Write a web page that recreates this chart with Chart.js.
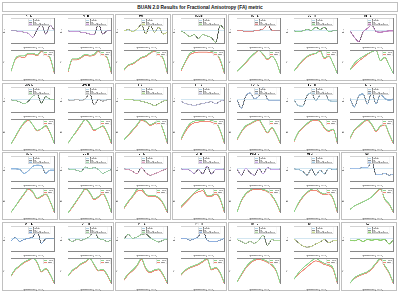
<!DOCTYPE html>
<html>
<head>
<meta charset="utf-8">
<script src="https://cdn.jsdelivr.net/npm/chart.js@4.4.1/dist/chart.umd.min.js"></script>
<style>
  body { margin: 0; width: 400px; height: 293px; background: #fff; position: relative; overflow: hidden; font-family: "Liberation Sans", Arial, sans-serif; }
  .box { position: absolute; border: 1px solid #c0c0c0; box-sizing: border-box; }
  #title { left: 2px; top: 2px; width: 396px; height: 10px; font-weight: bold; font-size: 4.8px; text-align: center; line-height: 9px; color: #111; }
  canvas { position: absolute; }
</style>
</head>
<body>
<div id="title" class="box">BUAN 2.0 Results for Fractional Anisotropy (FA) metric</div>
<script>
const segments = [0, 10, 20, 30, 40, 50, 60, 70, 80, 90, 100];
const bundleNames = [
  "AF_L", "AF_R", "MCP", "CCMid", "CST_L", "CST_R", "CTT_L",
  "EMC_L", "EMC_R", "F_L_R", "FPT_L", "IFOF_L", "IFOF_R", "ILF_L",
  "ML_L", "ML_R", "UF_L", "UF_R", "MdLF_L", "MdLF_R", "SCP",
  "OPT_L", "OPT_R", "PPT_L", "PPT_R", "ICP_L", "ICP_R", "AC"
];
const groupSizes = [[2, 1, 1, 3], [2, 1, 1, 3], [1, 1, 1, 1, 2, 1], [2, 2, 2, 1]];
const betaRange = [-0.06, 0.06];
const zeroBeta = 0;

const betaValues = [
  [0, 0, -0.003, -0.006, -0.012, -0.03, 0.006, 0.03, -0.015, 0.027, 0],
  [0, -0.003, -0.003, -0.006, -0.009, -0.015, -0.018, 0.033, -0.015, 0, 0],
  [0, 0.006, -0.003, 0.009, 0.03, -0.012, 0.027, -0.006, 0.018, -0.015, -0.006],
  [0, -0.012, -0.027, -0.018, -0.036, -0.018, -0.024, -0.033, -0.054, 0.027, 0.006],
  [0, 0.001, -0.003, -0.003, 0, 0.003, 0.009, 0.03, 0.003, 0, 0],
  [0, -0.003, 0, 0.006, 0.003, 0.018, 0.006, 0.018, -0.003, 0, 0],
  [0, -0.03, -0.051, -0.006, 0.012, 0.027, -0.003, -0.006, -0.003, 0, 0],
  [0, -0.003, -0.009, -0.018, -0.006, 0.018, 0.027, -0.015, 0.015, 0.003, 0],
  [0, -0.003, 0.003, -0.003, 0.006, 0.03, -0.024, 0.003, -0.006, 0, 0],
  [0, 0.003, 0, -0.003, -0.006, -0.012, -0.018, -0.027, -0.018, -0.006, 0],
  [-0.006, -0.018, -0.021, -0.027, -0.021, -0.018, -0.012, -0.009, -0.018, -0.006, 0],
  [0, -0.039, 0.018, 0.033, 0.006, 0.018, 0.057, 0.003, -0.003, -0.003, -0.003],
  [0, -0.027, -0.03, 0.021, 0.033, -0.003, 0.024, 0.045, -0.003, -0.006, -0.006],
  [0.006, -0.033, 0.018, 0.027, -0.018, 0.036, -0.018, 0.027, 0.006, 0, 0.003],
  [0, 0, -0.003, -0.021, -0.009, 0.012, 0.018, 0.015, -0.021, -0.006, -0.006],
  [0, -0.003, -0.006, -0.012, 0.009, 0, 0.006, -0.003, -0.021, -0.012, -0.003],
  [0, -0.003, -0.012, -0.024, 0.006, -0.018, -0.03, -0.024, -0.015, -0.006, 0.003],
  [0, -0.003, -0.006, -0.021, -0.003, -0.024, 0.012, -0.024, -0.003, -0.003, 0],
  [0, -0.03, 0.003, -0.018, -0.03, 0.003, -0.024, 0.006, -0.003, -0.003, 0],
  [0, -0.003, -0.012, -0.03, 0, -0.03, -0.006, -0.024, 0.003, -0.003, 0],
  [0, 0.003, 0.003, 0.006, 0.006, 0.036, -0.027, -0.027, -0.021, -0.03, -0.024],
  [-0.009, 0.006, -0.012, -0.003, 0.003, 0.009, 0.039, -0.021, 0, 0, 0],
  [0, -0.012, -0.003, -0.006, 0, 0.012, 0.039, 0.003, -0.003, -0.012, -0.006],
  [0, 0.021, 0.003, 0.009, 0.021, 0.024, 0.006, -0.006, -0.015, -0.006, 0],
  [0, 0.003, -0.006, 0, 0.012, 0.042, -0.006, -0.012, -0.012, -0.006, 0.003],
  [-0.003, -0.012, -0.021, -0.012, -0.021, -0.006, 0.018, -0.03, -0.003, -0.009, -0.006],
  [0, -0.018, -0.033, -0.039, -0.036, -0.024, -0.015, -0.003, -0.018, -0.009, -0.006],
  [-0.006, -0.009, -0.003, -0.012, -0.003, -0.006, -0.003, -0.006, -0.003, -0.024, -0.003]
];

const ciHalfWidth = [
  0.002, 0.002, 0.002, 0.002, 0.002, 0.002, 0.003,
  0.002, 0.002, 0.002, 0.002, 0.003, 0.003, 0.004,
  0.003, 0.002, 0.002, 0.002, 0.002, 0.002, 0.002,
  0.002, 0.002, 0.002, 0.002, 0.002, 0.002, 0.003
];

const controlFA = [
  [0.30, 0.44, 0.47, 0.47, 0.50, 0.50, 0.48, 0.53, 0.49, 0.45, 0.28],
  [0.32, 0.45, 0.45, 0.47, 0.50, 0.49, 0.50, 0.54, 0.50, 0.47, 0.30],
  [0.30, 0.36, 0.38, 0.42, 0.46, 0.48, 0.52, 0.55, 0.50, 0.45, 0.25],
  [0.34, 0.45, 0.55, 0.58, 0.59, 0.59, 0.59, 0.58, 0.56, 0.48, 0.30],
  [0.30, 0.36, 0.43, 0.50, 0.56, 0.60, 0.55, 0.48, 0.52, 0.44, 0.26],
  [0.32, 0.40, 0.47, 0.52, 0.55, 0.56, 0.60, 0.50, 0.53, 0.42, 0.28],
  [0.33, 0.43, 0.49, 0.53, 0.57, 0.60, 0.62, 0.47, 0.52, 0.40, 0.27],
  [0.30, 0.40, 0.50, 0.58, 0.62, 0.55, 0.48, 0.50, 0.54, 0.45, 0.30],
  [0.30, 0.38, 0.46, 0.54, 0.60, 0.55, 0.47, 0.49, 0.52, 0.44, 0.30],
  [0.32, 0.38, 0.44, 0.50, 0.56, 0.54, 0.50, 0.52, 0.55, 0.44, 0.28],
  [0.35, 0.45, 0.52, 0.55, 0.56, 0.56, 0.57, 0.56, 0.54, 0.45, 0.30],
  [0.35, 0.45, 0.52, 0.55, 0.58, 0.60, 0.52, 0.44, 0.50, 0.42, 0.30],
  [0.33, 0.44, 0.50, 0.55, 0.59, 0.60, 0.58, 0.50, 0.46, 0.48, 0.30],
  [0.35, 0.45, 0.50, 0.55, 0.58, 0.52, 0.44, 0.50, 0.52, 0.40, 0.28],
  [0.30, 0.38, 0.47, 0.55, 0.62, 0.58, 0.49, 0.52, 0.55, 0.45, 0.30],
  [0.30, 0.38, 0.46, 0.54, 0.61, 0.56, 0.48, 0.51, 0.55, 0.46, 0.30],
  [0.35, 0.42, 0.48, 0.55, 0.56, 0.50, 0.48, 0.48, 0.46, 0.40, 0.30],
  [0.38, 0.42, 0.46, 0.50, 0.53, 0.54, 0.48, 0.48, 0.50, 0.45, 0.33],
  [0.30, 0.44, 0.52, 0.56, 0.58, 0.58, 0.57, 0.55, 0.50, 0.42, 0.30],
  [0.30, 0.40, 0.47, 0.52, 0.55, 0.56, 0.52, 0.50, 0.51, 0.45, 0.30],
  [0.30, 0.35, 0.38, 0.41, 0.44, 0.48, 0.55, 0.60, 0.45, 0.38, 0.26],
  [0.36, 0.45, 0.50, 0.55, 0.58, 0.60, 0.55, 0.42, 0.46, 0.38, 0.25],
  [0.36, 0.44, 0.48, 0.53, 0.56, 0.60, 0.52, 0.44, 0.45, 0.38, 0.26],
  [0.40, 0.46, 0.50, 0.55, 0.62, 0.52, 0.48, 0.50, 0.51, 0.45, 0.36],
  [0.40, 0.45, 0.48, 0.50, 0.52, 0.55, 0.58, 0.46, 0.48, 0.42, 0.30],
  [0.30, 0.38, 0.45, 0.50, 0.53, 0.54, 0.53, 0.51, 0.48, 0.42, 0.28],
  [0.33, 0.38, 0.42, 0.45, 0.48, 0.50, 0.48, 0.46, 0.45, 0.42, 0.30],
  [0.30, 0.36, 0.39, 0.41, 0.43, 0.47, 0.53, 0.58, 0.50, 0.42, 0.30]
];

const patientFA = [
  [0.30, 0.43, 0.46, 0.45, 0.49, 0.49, 0.47, 0.52, 0.48, 0.44, 0.27],
  [0.31, 0.44, 0.44, 0.46, 0.49, 0.48, 0.49, 0.53, 0.49, 0.46, 0.29],
  [0.29, 0.35, 0.37, 0.41, 0.45, 0.47, 0.51, 0.54, 0.49, 0.44, 0.24],
  [0.33, 0.44, 0.53, 0.56, 0.57, 0.57, 0.57, 0.56, 0.55, 0.46, 0.29],
  [0.30, 0.36, 0.42, 0.49, 0.55, 0.60, 0.54, 0.47, 0.51, 0.44, 0.26],
  [0.32, 0.39, 0.46, 0.51, 0.54, 0.56, 0.59, 0.49, 0.52, 0.42, 0.28],
  [0.33, 0.40, 0.46, 0.51, 0.56, 0.60, 0.62, 0.47, 0.51, 0.40, 0.27],
  [0.30, 0.39, 0.49, 0.57, 0.61, 0.55, 0.47, 0.50, 0.53, 0.44, 0.30],
  [0.30, 0.38, 0.45, 0.53, 0.60, 0.54, 0.46, 0.49, 0.51, 0.43, 0.29],
  [0.32, 0.37, 0.43, 0.49, 0.55, 0.53, 0.49, 0.51, 0.54, 0.43, 0.27],
  [0.34, 0.43, 0.50, 0.53, 0.54, 0.55, 0.55, 0.54, 0.53, 0.44, 0.29],
  [0.34, 0.44, 0.51, 0.54, 0.57, 0.59, 0.51, 0.43, 0.49, 0.41, 0.29],
  [0.32, 0.43, 0.49, 0.54, 0.58, 0.59, 0.57, 0.49, 0.45, 0.47, 0.29],
  [0.34, 0.44, 0.49, 0.54, 0.57, 0.51, 0.43, 0.49, 0.51, 0.39, 0.27],
  [0.30, 0.38, 0.46, 0.54, 0.61, 0.57, 0.48, 0.51, 0.54, 0.44, 0.29],
  [0.30, 0.37, 0.45, 0.53, 0.60, 0.55, 0.47, 0.50, 0.54, 0.45, 0.30],
  [0.34, 0.41, 0.47, 0.53, 0.54, 0.49, 0.47, 0.47, 0.45, 0.39, 0.29],
  [0.37, 0.41, 0.45, 0.49, 0.51, 0.52, 0.47, 0.47, 0.49, 0.44, 0.32],
  [0.30, 0.43, 0.51, 0.55, 0.57, 0.57, 0.56, 0.54, 0.49, 0.41, 0.29],
  [0.30, 0.39, 0.46, 0.51, 0.54, 0.54, 0.51, 0.49, 0.50, 0.44, 0.29],
  [0.30, 0.35, 0.38, 0.41, 0.44, 0.48, 0.54, 0.59, 0.44, 0.37, 0.25],
  [0.35, 0.44, 0.49, 0.54, 0.57, 0.60, 0.54, 0.41, 0.45, 0.37, 0.24],
  [0.36, 0.43, 0.47, 0.52, 0.55, 0.60, 0.51, 0.43, 0.44, 0.37, 0.25],
  [0.39, 0.45, 0.49, 0.54, 0.61, 0.51, 0.47, 0.49, 0.50, 0.44, 0.35],
  [0.39, 0.44, 0.47, 0.49, 0.51, 0.54, 0.57, 0.45, 0.47, 0.41, 0.29],
  [0.30, 0.37, 0.44, 0.49, 0.52, 0.53, 0.52, 0.50, 0.47, 0.41, 0.28],
  [0.33, 0.37, 0.40, 0.43, 0.46, 0.48, 0.47, 0.45, 0.44, 0.41, 0.29],
  [0.30, 0.35, 0.38, 0.40, 0.42, 0.46, 0.52, 0.57, 0.49, 0.41, 0.29]
];

// band colours, one per panel
const ciColors = [
  "#c9a0dc", "#c79bd6", "#c8d88a", "#9fcf8f", "#e08a8a", "#8fd08f", "#c080c0",
  "#9fd3a0", "#bbbbbb", "#b0d890", "#c0c0e0", "#a0b8d8", "#a8c8d8", "#8fb0d0",
  "#90b8e0", "#a0d8b0", "#e0a0c0", "#c0a0e0", "#c8a8e8", "#a0c8e0", "#a0c0e8",
  "#80a8d8", "#a0d0a0", "#a0d8a0", "#8fb0e0", "#b0d8a0", "#c8d890", "#90d070"
];

const FONT = '"Liberation Sans", Arial, sans-serif';
const colW = 396 / 7;
const rowTops = [14, 83, 152, 222];
const rowHeights = [67, 68, 68, 69];

const framePlugin = {
  id: 'frame',
  afterDraw(chart) {
    const { ctx, chartArea: a } = chart;
    ctx.save();
    ctx.strokeStyle = '#888';
    ctx.lineWidth = 0.35;
    ctx.strokeRect(a.left, a.top, a.width, a.height);
    ctx.restore();
  }
};

const insideLegend = {
  id: 'insideLegend',
  afterDatasetsDraw(chart, args, opts) {
    const items = chart.data.datasets.filter(d => d.label);
    const { ctx, chartArea: a } = chart;
    const fs = 1.5, rowH = 1.9;
    ctx.save();
    ctx.font = fs + 'px ' + FONT;
    const textW = Math.max(...items.map(d => ctx.measureText(d.label).width));
    const w = 4.5 + textW + 1, h = items.length * rowH + 0.8;
    const x = opts.align === 'right' ? a.right - w - 0.8 : a.left + a.width * opts.fx;
    const y = a.top + 0.7;
    ctx.fillStyle = 'rgba(255,255,255,0.85)';
    ctx.strokeStyle = '#d0d0d0';
    ctx.lineWidth = 0.3;
    ctx.fillRect(x, y, w, h);
    ctx.strokeRect(x, y, w, h);
    items.forEach((d, i) => {
      const cy = y + 0.4 + rowH * (i + 0.5);
      if (d.patch) {
        ctx.fillStyle = d.backgroundColor;
        ctx.fillRect(x + 0.6, cy - 0.6, 3, 1.2);
      } else {
        ctx.strokeStyle = d.borderColor;
        ctx.lineWidth = 0.6;
        ctx.beginPath();
        ctx.moveTo(x + 0.6, cy);
        ctx.lineTo(x + 3.6, cy);
        ctx.stroke();
      }
      ctx.fillStyle = '#333';
      ctx.textBaseline = 'middle';
      ctx.fillText(d.label, x + 4.5, cy);
    });
    ctx.restore();
  }
};

function addCanvas(x, y, w, h) {
  const c = document.createElement('canvas');
  c.style.left = x + 'px';
  c.style.top = y + 'px';
  c.style.width = w + 'px';
  c.style.height = h + 'px';
  document.body.appendChild(c);
  return c;
}

function tickFont() { return { size: 1.8, family: FONT }; }

function xScale(h) {
  return {
    type: 'linear', min: 0, max: 100,
    grid: { display: false }, border: { display: false },
    ticks: { stepSize: 20, font: tickFont(), color: '#444', padding: 0.4, maxRotation: 0, autoSkip: false },
    title: { display: true, text: 'Segment Number (Location)', font: tickFont(), color: '#444', padding: 0 },
    afterFit(s) { s.height = h; }
  };
}

function yScale(title, extra) {
  return Object.assign({
    grid: { display: false }, border: { display: false },
    ticks: { font: tickFont(), color: '#444', padding: 0.4, callback: v => v.toFixed(2) },
    title: { display: true, text: title, font: tickFont(), color: '#444', padding: 0 },
    afterFit(s) { s.width = 8; }
  }, extra);
}

function points(vals) {
  return segments.map((s, i) => ({ x: s, y: vals[i] }));
}

function makePanel(i, x, y, w, h) {
  const beta = betaValues[i];
  const ci = ciHalfWidth[i];
  const upper = beta.map(v => v + ci);
  const lower = beta.map(v => v - ci);

  new Chart(addCanvas(x, y, w, 35), {
    type: 'line',
    data: {
      datasets: [
        { data: points(upper), fill: '+1', backgroundColor: ciColors[i], borderWidth: 0, pointRadius: 0, cubicInterpolationMode: 'monotone' },
        { data: points(lower), fill: false, borderWidth: 0, pointRadius: 0, cubicInterpolationMode: 'monotone' },
        { label: 'Zero Beta', data: [{ x: 0, y: zeroBeta }, { x: 100, y: zeroBeta }], borderColor: '#a6cee3', borderWidth: 0.7, pointRadius: 0 },
        { label: 'Beta', data: points(beta), borderColor: '#3a3a3a', borderWidth: 0.9, pointRadius: 0, cubicInterpolationMode: 'monotone' },
        { label: '95% Confidence Interval', patch: true, data: [], backgroundColor: ciColors[i], borderColor: ciColors[i] }
      ]
    },
    options: {
      responsive: false, animation: false, devicePixelRatio: 3,
      layout: { padding: { left: 0, right: 2.5, top: 0, bottom: 0 } },
      plugins: {
        legend: { display: false }, tooltip: { enabled: false },
        title: { display: true, text: bundleNames[i], font: { size: 2.4, weight: 'bold', family: FONT }, color: '#111', padding: { top: 0.6, bottom: 0.8 } },
        insideLegend: { fx: 0.4 }
      },
      scales: {
        x: xScale(5.5),
        y: yScale('Beta', { min: betaRange[0], max: betaRange[1], ticks: { stepSize: 0.02, font: tickFont(), color: '#444', padding: 0.4, callback: v => v.toFixed(2) } })
      }
    },
    plugins: [framePlugin, insideLegend]
  });

  new Chart(addCanvas(x, y + 35, w, h - 35), {
    type: 'line',
    data: {
      datasets: [
        { label: 'Control', data: points(controlFA[i]), borderColor: '#8fd68f', borderWidth: 1, pointRadius: 0, cubicInterpolationMode: 'monotone' },
        { label: 'Patient', data: points(patientFA[i]), borderColor: '#f08a78', borderWidth: 1, pointRadius: 0, cubicInterpolationMode: 'monotone' }
      ]
    },
    options: {
      responsive: false, animation: false, devicePixelRatio: 3,
      layout: { padding: { left: 0, right: 2.5, top: 0.5, bottom: 0 } },
      plugins: { legend: { display: false }, tooltip: { enabled: false }, insideLegend: { align: 'right' } },
      scales: {
        x: xScale(7),
        y: yScale('FA', { bounds: 'data', grace: '6%', ticks: { maxTicksLimit: 6, font: tickFont(), color: '#444', padding: 0.4, callback: v => v.toFixed(2) } })
      }
    },
    plugins: [framePlugin, insideLegend]
  });
}

let idx = 0;
groupSizes.forEach((groups, r) => {
  let col = 0;
  groups.forEach(n => {
    const box = document.createElement('div');
    box.className = 'box';
    box.style.left = (2 + col * colW) + 'px';
    box.style.top = rowTops[r] + 'px';
    box.style.width = (n * colW - 1) + 'px';
    box.style.height = rowHeights[r] + 'px';
    document.body.appendChild(box);
    for (let k = 0; k < n; k++) {
      makePanel(idx++, 2 + (col + k) * colW + 1, rowTops[r], Math.floor(colW - 2), rowHeights[r]);
    }
    col += n;
  });
});
</script>
</body>
</html>
